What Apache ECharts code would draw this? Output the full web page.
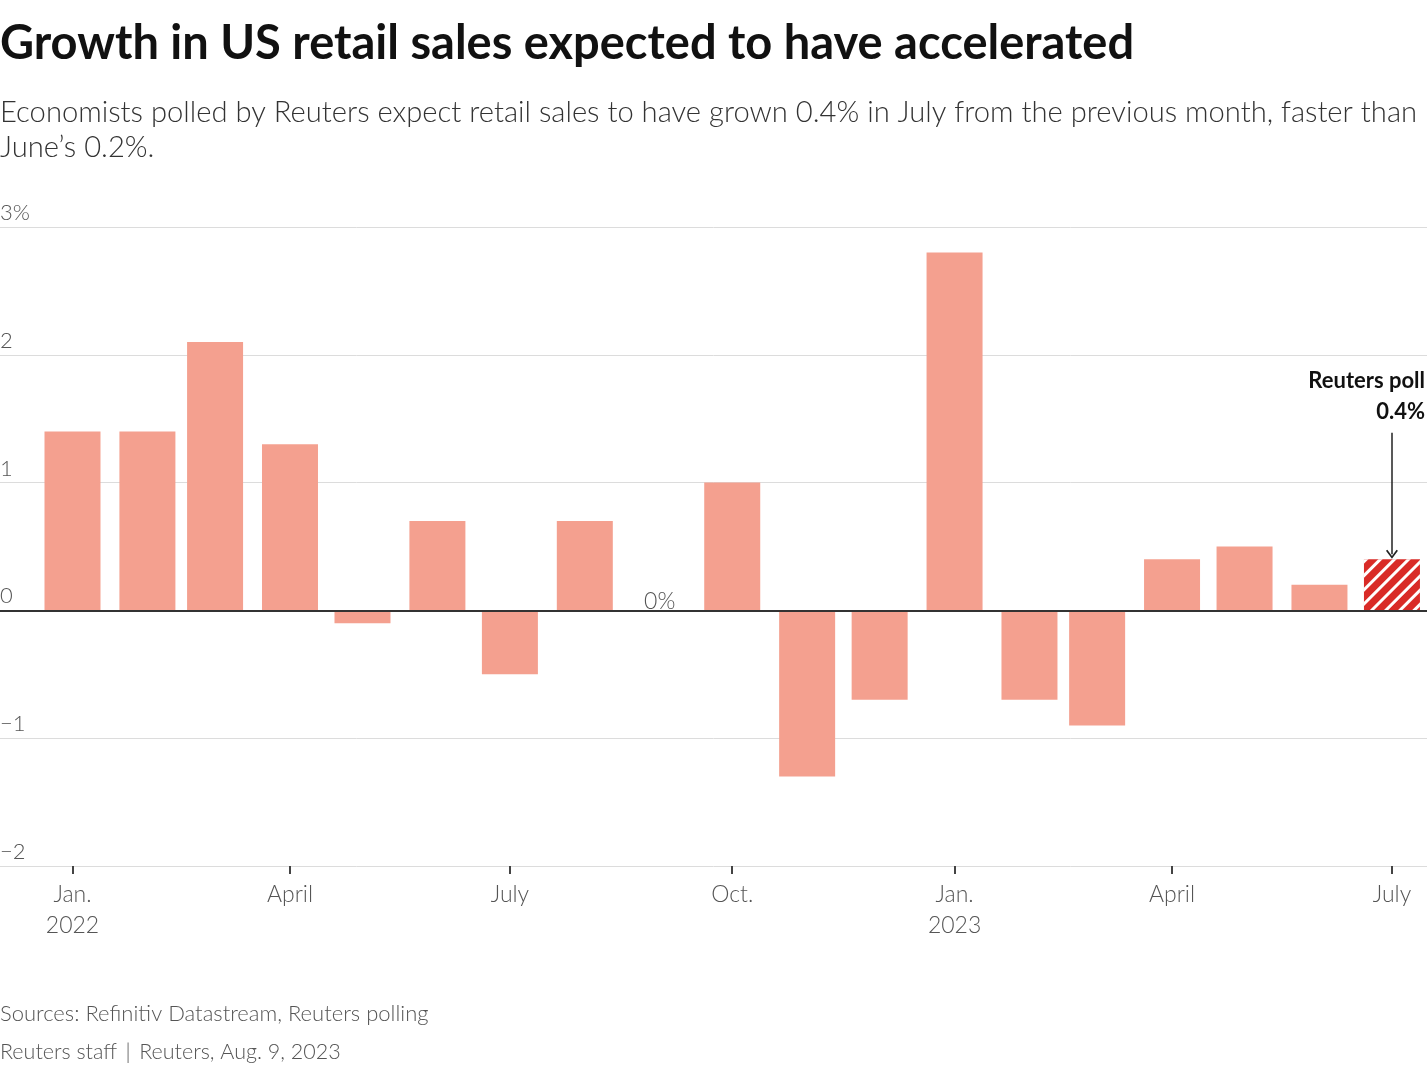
<!DOCTYPE html>
<html>
<head>
<meta charset="utf-8">
<script src="https://cdn.jsdelivr.net/npm/echarts@6/dist/echarts.min.js"></script>
<style>
  html, body { margin: 0; padding: 0; background: #fff; }
  #main { width: 1427px; height: 1068px; }
</style>
</head>
<body>
<div id="main"></div>
<script>
// monthly change in US retail sales (%), Jan 2022 - Jul 2023; the last month is the Reuters poll
var months = ['2022-01', '2022-02', '2022-03', '2022-04', '2022-05', '2022-06', '2022-07', '2022-08',
              '2022-09', '2022-10', '2022-11', '2022-12', '2023-01', '2023-02', '2023-03', '2023-04',
              '2023-05', '2023-06', '2023-07'];
var salesChange = [1.4, 1.4, 2.1, 1.3, -0.1, 0.7, -0.5, 0.7, 0, 1.0, -1.3, -0.7, 2.8, -0.7, -0.9, 0.4, 0.5, 0.2, 0.4];
var pollMonth = '2023-07';

var tickMonths = ['2022-01', '2022-04', '2022-07', '2022-10', '2023-01', '2023-04', '2023-07'];
var tickLabels = ['Jan.\n2022', 'April', 'July', 'Oct.', 'Jan.\n2023', 'April', 'July'];

var FONT = 'Lato, "Source Sans Pro", "Noto Sans", sans-serif';

// months are placed on a linear date scale (ms since epoch, UTC)
function toTime(ym, day, hour) {
    var p = ym.split('-');
    return Date.UTC(+p[0], +p[1] - 1, day || 1, hour || 0);
}

var barData = months.map(function (m, i) {
    var v = salesChange[i];
    var item = { value: [toTime(m), v] };
    if (m === pollMonth) {
        item.itemStyle = {
            color: '#d92b27',
            decal: {
                symbol: 'rect',
                color: '#ffffff',
                dashArrayX: [1, 0],
                dashArrayY: [3, 7],
                rotation: -Math.PI / 4
            }
        };
    }
    if (v === 0) {
        item.label = {
            show: true, position: 'top', distance: -3, formatter: '0%',
            color: '#555', fontSize: 23, fontWeight: 300, fontFamily: FONT
        };
    }
    return item;
});

var tickTimes = tickMonths.map(function (m) { return toTime(m); });

var myChart = echarts.init(document.getElementById('main'));

var option = {
    backgroundColor: '#fff',
    animation: false,
    title: [
        {
            text: 'Growth in US retail sales expected to have accelerated',
            left: 0, top: 20, padding: 0,
            textStyle: { fontSize: 47, fontWeight: 'bold', color: '#111', fontFamily: FONT }
        },
        {
            text: 'Economists polled by Reuters expect retail sales to have grown 0.4% in July from the previous month, faster than\nJune\u2019s 0.2%.',
            left: 0, top: 95, padding: 0,
            textStyle: { fontSize: 29.2, fontWeight: 300, color: '#333', lineHeight: 35, fontFamily: FONT }
        },
        {
            text: 'Sources: Refinitiv Datastream, Reuters polling',
            left: 0, top: 1003, padding: 0,
            textStyle: { fontSize: 22, fontWeight: 300, color: '#555', fontFamily: FONT }
        },
        {
            text: 'Reuters staff \u2009|\u2009 Reuters, Aug. 9, 2023',
            left: 0, top: 1041, padding: 0,
            textStyle: { fontSize: 21.5, fontWeight: 300, color: '#555', fontFamily: FONT }
        }
    ],
    grid: { left: 0, right: 0, top: 227, bottom: 202, outerBoundsMode: 'none', containLabel: false },
    xAxis: {
        type: 'value',
        min: toTime('2021-12', 2, 0),
        max: toTime('2023-07', 15, 12),
        axisLine: { show: false, onZero: false },
        splitLine: { show: false },
        axisTick: {
            show: true, length: 8,
            customValues: tickTimes,
            lineStyle: { color: '#444', width: 2 }
        },
        axisLabel: {
            margin: 13, color: '#555', fontSize: 23, fontWeight: 300,
            lineHeight: 31, fontFamily: FONT,
            customValues: tickTimes,
            formatter: function (val) {
                var i = tickTimes.indexOf(val);
                return i >= 0 ? tickLabels[i] : '';
            }
        }
    },
    yAxis: {
        type: 'value',
        min: -2, max: 3, interval: 1,
        axisLine: { show: false },
        axisTick: { show: false },
        splitLine: { show: true, lineStyle: { color: '#dcdcdc', width: 1 } },
        axisLabel: {
            inside: true, margin: 0, verticalAlign: 'bottom', align: 'left',
            color: '#555', fontSize: 22, fontWeight: 300, fontFamily: FONT,
            padding: [0, 0, 3, 0],
            formatter: function (v) {
                if (v === 3) return '3%';
                if (v < 0) return '\u2212' + Math.abs(v);
                return String(v);
            }
        }
    },
    series: [
        {
            name: 'Retail sales',
            type: 'bar',
            data: barData,
            barWidth: 56,
            itemStyle: { color: '#f4a08f' },
            markLine: {
                silent: true,
                symbol: 'none',
                label: { show: false },
                lineStyle: { color: '#333', width: 2, type: 'solid' },
                data: [
                    { yAxis: 0 },
                    [
                        { coord: [toTime(pollMonth), 1.39], symbol: 'none',
                          lineStyle: { color: '#222', width: 1.5, type: 'solid' } },
                        { coord: [toTime(pollMonth), 0.44],
                          symbol: 'path://M0,8 L6,0 L12,8 L10.6,9 L6,2.6 L1.4,9 Z',
                          symbolSize: [12, 9] }
                    ]
                ]
            }
        }
    ],
    graphic: [
        {
            type: 'text',
            right: 2, top: 370,
            style: { text: 'Reuters poll', fill: '#111', font: 'bold 22px ' + FONT }
        },
        {
            type: 'text',
            right: 2, top: 401,
            style: { text: '0.4%', fill: '#111', font: 'bold 22px ' + FONT }
        }
    ]
};

myChart.setOption(option);
</script>
</body>
</html>
